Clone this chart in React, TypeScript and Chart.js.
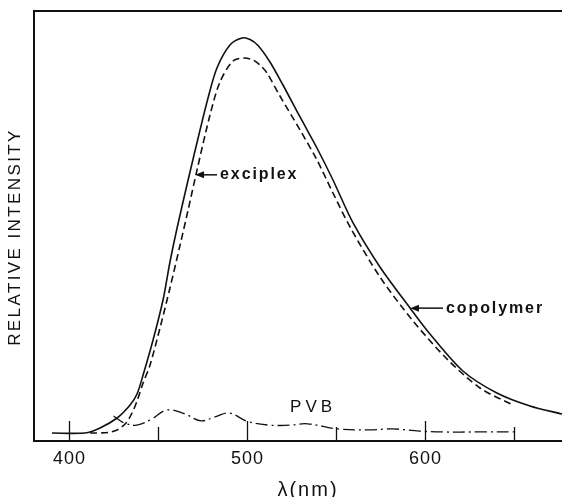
import React, { useEffect, useRef } from "react";
import { Chart, registerables } from "chart.js";

Chart.register(...registerables);

// ---- data (wavelength nm, relative intensity 0..100) ----
const copolymerX = [390.4, 409, 417.4, 427, 434.3, 438.2, 441.6, 447.2, 452.8, 456.7, 460.7, 466.9, 473.6, 478.1, 483.1, 490.4, 497.2, 501.7, 506.2, 512.9, 520.2, 529.8, 539.3, 548.3, 559.6, 574.7, 591.6, 602.8, 621.3, 640.4, 659, 677];
const copolymerY = [1.86, 1.86, 3.02, 5.35, 8.37, 10.93, 15.35, 23.49, 32.79, 41.63, 49.53, 60.7, 72.33, 79.77, 86.74, 92.09, 93.72, 93.37, 91.98, 88.14, 82.79, 75.35, 68.14, 60.7, 50.7, 40.47, 30.93, 24.88, 16.28, 11.16, 8.14, 6.28];

const exciplexX = [411.8, 421.9, 427.5, 432, 435.4, 438.2, 441.6, 445.5, 451.1, 456.7, 462.4, 466.9, 471.9, 479.2, 484.8, 492.1, 498.3, 503.4, 507.3, 511.2, 518.5, 529.8, 539.3, 548.3, 557.9, 574.7, 593.3, 612.4, 630.9, 649.4];
const exciplexY = [1.86, 1.98, 2.67, 4.19, 6.51, 9.3, 13.49, 17.67, 26.28, 35.58, 45.58, 53.72, 63.02, 75.81, 83.49, 88.37, 89.07, 88.6, 87.44, 85.58, 80.23, 72.33, 65.35, 57.67, 49.77, 38.14, 27.91, 19.07, 12.33, 8.37];

const pvbX = [425, 431, 438, 446, 455, 465, 474, 482, 490, 500, 512, 524, 534, 551, 569, 582, 597, 610, 630, 650];
const pvbY = [5.8, 4.2, 3.7, 5.0, 7.2, 6.3, 4.7, 5.6, 6.5, 4.6, 3.7, 3.7, 4.0, 2.8, 2.6, 2.8, 2.3, 2.1, 2.1, 2.1];

const xTickLabels = [400, 500, 600];
const xMinorTicks = [450, 550, 650];
const xRange = [380.3, 677];
const yRange = [0, 100];

const labelTexts = { exciplex: "exciplex", copolymer: "copolymer", pvb: "PVB" };
// annotation anchors in data space [x, y]
const exciplexArrow = [470.8, 61.9];
const copolymerArrow = [591.6, 30.9];
const pvbLabelAt = [536, 7.9];

const yTitle = "RELATIVE INTENSITY";
const xTitle = "λ(nm)";

const FONT = "'Liberation Sans', Arial, sans-serif";

function toPoints(xs: number[], ys: number[]) {
  return xs.map((x, i) => ({ x, y: ys[i] }));
}

const decorPlugin = {
  id: "decor",
  afterDraw(chart: any) {
    const ctx = chart.ctx as CanvasRenderingContext2D;
    const xs = chart.scales.x;
    const ys = chart.scales.y;
    const ca = chart.chartArea;
    ctx.save();
    ctx.strokeStyle = "#111";
    ctx.fillStyle = "#111";
    // frame
    ctx.lineWidth = 2;
    ctx.beginPath();
    ctx.moveTo(ca.right, ca.top);
    ctx.lineTo(ca.left, ca.top);
    ctx.lineTo(ca.left, ca.bottom);
    ctx.lineTo(ca.right, ca.bottom);
    ctx.stroke();
    // inner ticks
    ctx.lineWidth = 1.3;
    const tick = (v: number, len: number) => {
      const px = Math.round(xs.getPixelForValue(v)) + 0.5;
      ctx.beginPath();
      ctx.moveTo(px, ca.bottom);
      ctx.lineTo(px, ca.bottom - len);
      ctx.stroke();
    };
    xTickLabels.forEach((v) => tick(v, 20));
    xMinorTicks.forEach((v) => tick(v, 14));
    // tick labels
    (ctx as any).letterSpacing = "1px";
    ctx.font = `18px ${FONT}`;
    ctx.textAlign = "center";
    ctx.textBaseline = "middle";
    xTickLabels.forEach((v) => {
      ctx.fillText(String(v), xs.getPixelForValue(v) + 0.5, ca.bottom + 18);
    });
    // x title
    (ctx as any).letterSpacing = "2px";
    ctx.font = `20px ${FONT}`;
    ctx.fillText(xTitle, (ca.left + ca.right) / 2 + 10, ca.bottom + 49);
    // y title
    ctx.save();
    (ctx as any).letterSpacing = "2.4px";
    ctx.font = `17px ${FONT}`;
    ctx.translate(ca.left - 19, (ca.top + ca.bottom) / 2 + 11);
    ctx.rotate(-Math.PI / 2);
    ctx.fillText(yTitle, 0, 0);
    ctx.restore();

    // arrows with labels
    const arrowLabel = (anchor: number[], lineLen: number, text: string) => {
      const ax = xs.getPixelForValue(anchor[0]);
      const ay = ys.getPixelForValue(anchor[1]);
      ctx.lineWidth = 1.5;
      ctx.beginPath();
      ctx.moveTo(ax + 6, ay);
      ctx.lineTo(ax + lineLen, ay);
      ctx.stroke();
      ctx.beginPath();
      ctx.moveTo(ax, ay);
      ctx.lineTo(ax + 9, ay - 3.5);
      ctx.lineTo(ax + 9, ay + 3.5);
      ctx.closePath();
      ctx.fill();
      (ctx as any).letterSpacing = "1.9px";
      ctx.font = `bold 16px ${FONT}`;
      ctx.textAlign = "left";
      ctx.textBaseline = "middle";
      ctx.fillText(text, ax + lineLen + 3, ay);
    };
    arrowLabel(exciplexArrow, 22, labelTexts.exciplex);
    arrowLabel(copolymerArrow, 33, labelTexts.copolymer);

    (ctx as any).letterSpacing = "4px";
    ctx.font = `17px ${FONT}`;
    ctx.textAlign = "center";
    ctx.textBaseline = "middle";
    ctx.fillText(labelTexts.pvb, xs.getPixelForValue(pvbLabelAt[0]) + 2, ys.getPixelForValue(pvbLabelAt[1]));
    ctx.restore();
  },
};

export default function App() {
  const ref = useRef<HTMLCanvasElement | null>(null);
  useEffect(() => {
    if (!ref.current) return;
    const chart = new Chart(ref.current, {
      type: "line",
      data: {
        datasets: [
          {
            label: "copolymer",
            data: toPoints(copolymerX, copolymerY),
            borderColor: "#111",
            borderWidth: 1.6,
            pointRadius: 0,
            tension: 0.3,
            fill: false,
          },
          {
            label: "exciplex",
            data: toPoints(exciplexX, exciplexY),
            borderColor: "#111",
            borderWidth: 1.6,
            borderDash: [7, 4],
            pointRadius: 0,
            tension: 0.3,
            fill: false,
          },
          {
            label: "PVB",
            data: toPoints(pvbX, pvbY),
            borderColor: "#111",
            borderWidth: 1.3,
            borderDash: [12, 4, 2, 4],
            pointRadius: 0,
            tension: 0.4,
            fill: false,
          },
        ],
      },
      options: {
        responsive: false,
        animation: false,
        layout: { padding: { left: 34, top: 11, right: 0, bottom: 56 } },
        plugins: { legend: { display: false }, tooltip: { enabled: false } },
        scales: {
          x: { type: "linear", min: xRange[0], max: xRange[1], display: false },
          y: { type: "linear", min: yRange[0], max: yRange[1], display: false },
        },
      },
      plugins: [decorPlugin],
    } as any);
    return () => chart.destroy();
  }, []);
  return (
    <div style={{ position: "absolute", left: 0, top: 0, width: 562, height: 497, background: "#fff" }}>
      <canvas ref={ref} width={562} height={497} style={{ display: "block" }} />
    </div>
  );
}
